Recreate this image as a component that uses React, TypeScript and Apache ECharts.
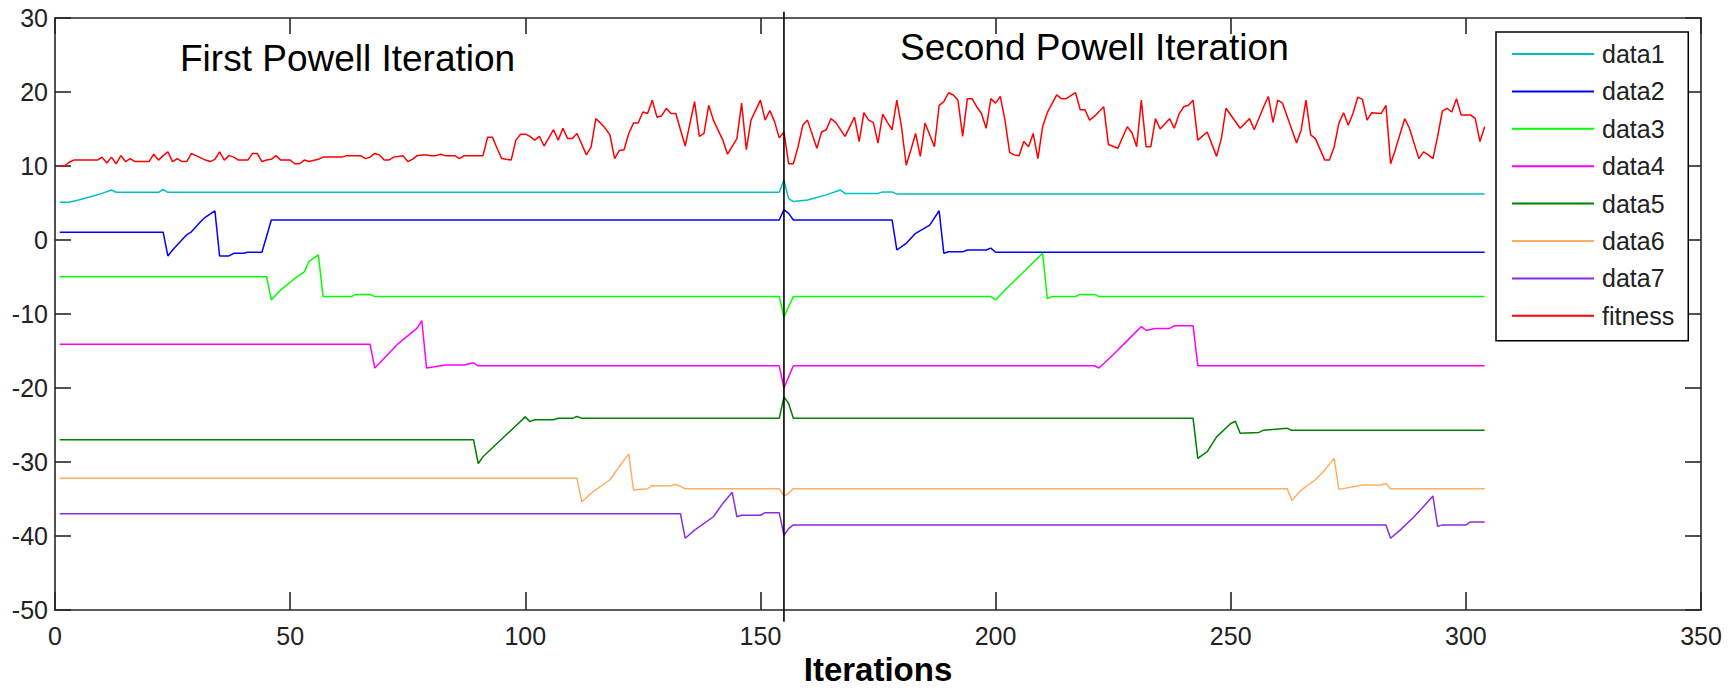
import { useEffect, useRef } from "react";
import * as echarts from "echarts";

// Axis ranges and tick spacing
const xRange = [0, 350];
const xStep = 50;
const yRange = [-50, 30];
const yStep = 10;

// Iteration where the second Powell sweep begins, and the extent of the divider
const powellSplit = 155;
const splitSpan = [-51.6, 30.85];

const annotations = ["First Powell Iteration", "Second Powell Iteration"];
const xTitle = "Iterations";

const seriesNames = ["data1", "data2", "data3", "data4", "data5", "data6", "data7", "fitness"];
const seriesColors = ["#00BFBF", "#0000FF", "#00FF00", "#FF00FF", "#008000", "#FFAE62", "#8A2BE2", "#FF0000"];

// [iteration, value] breakpoints of each parameter trace
const data1: [number, number][] = [
  [1, 5.1], [3, 5.1], [5, 5.4], [8, 5.9], [10, 6.3], [12, 6.75], [13, 6.45], [22, 6.45], [23, 6.85], [24, 6.45],
  [154, 6.45], [155, 8.1], [156, 5.6], [157, 5.2], [160, 5.4], [164, 6.1], [167, 6.75], [168, 6.3], [175, 6.3],
  [176, 6.5], [178, 6.5], [179, 6.2], [304, 6.2],
];
const data2: [number, number][] = [
  [1, 1.05], [23, 1.05], [24, -2.15], [25, -1.35], [28, 0.7], [29, 1.1], [31, 2.5], [32, 3.1], [34, 3.95], [35, -2.15],
  [37, -2.15], [38, -1.8], [40, -1.8], [41, -1.65], [44, -1.65], [45, 0.5], [46, 2.7], [154, 2.7], [155, 4.1],
  [156, 3.6], [157, 2.7], [178, 2.7], [179, -1.35], [181, -0.45], [183, 0.9], [186, 2.0], [188, 3.95], [189, -1.8],
  [190, -1.6], [193, -1.6], [194, -1.35], [198, -1.35], [199, -1.1], [200, -1.65], [304, -1.65],
];
const data3: [number, number][] = [
  [1, -4.95], [45, -4.95], [46, -8.1], [48, -6.75], [51, -5.2], [53, -4.3], [54, -2.9], [56, -2.0], [57, -7.65],
  [63, -7.65], [64, -7.35], [67, -7.35], [68, -7.65], [154, -7.65], [155, -10.4], [156, -9.0], [157, -7.65],
  [199, -7.65], [200, -8.1], [202, -6.75], [210, -1.8], [211, -7.9], [212, -7.65], [217, -7.65], [218, -7.35],
  [221, -7.35], [222, -7.65], [304, -7.65],
];
const data4: [number, number][] = [
  [1, -14.1], [67, -14.1], [68, -17.3], [73, -14.0], [77, -11.9], [78, -10.9], [79, -17.3], [83, -16.9], [87, -16.9],
  [89, -16.6], [90, -17.0], [154, -17.0], [155, -20.0], [156, -18.5], [157, -17.0], [221, -17.0], [222, -17.3],
  [225, -15.5], [228, -13.6], [231, -11.7], [232, -12.2], [234, -11.95], [237, -11.95], [238, -11.6], [242, -11.6],
  [243, -17.0], [304, -17.0],
];
const data5: [number, number][] = [
  [1, -27.0], [89, -27.0], [90, -30.2], [91, -29.3], [100, -23.9], [101, -24.55], [102, -24.3], [106, -24.3],
  [107, -24.1], [110, -24.1], [111, -23.85], [112, -24.1], [154, -24.1], [155, -21.2], [156, -22.1], [157, -24.1],
  [242, -24.1], [243, -29.5], [245, -28.6], [247, -26.6], [250, -24.8], [251, -24.5], [252, -26.1], [256, -26.0],
  [257, -25.7], [262, -25.45], [263, -25.7], [304, -25.7],
];
const data6: [number, number][] = [
  [1, -32.2], [111, -32.2], [112, -35.4], [114, -34.2], [118, -32.4], [120, -30.6], [122, -28.9], [123, -33.8],
  [126, -33.6], [127, -33.2], [131, -33.2], [132, -33.0], [134, -33.6], [154, -33.6], [155, -34.6], [156, -34.2],
  [157, -33.6], [262, -33.6], [263, -35.2], [265, -33.8], [268, -32.4], [270, -31.1], [272, -29.5], [273, -33.7],
  [278, -33.1], [282, -33.1], [283, -32.9], [284, -33.6], [304, -33.6],
];
const data7: [number, number][] = [
  [1, -37.0], [133, -37.0], [134, -40.3], [136, -39.2], [140, -37.4], [142, -35.6], [144, -34.1], [145, -37.4],
  [146, -37.2], [150, -37.2], [151, -36.85], [154, -36.85], [155, -39.9], [156, -39.0], [157, -38.5], [283, -38.5],
  [284, -40.3], [286, -39.2], [289, -37.4], [291, -36.0], [293, -34.6], [294, -38.7], [295, -38.5], [300, -38.5],
  [301, -38.1], [304, -38.1],
];
const fitness: [number, number][] = [
  [1, 10.0], [2, 10.0], [3, 10.5], [4, 10.8], [9, 10.8], [10, 11.2], [11, 10.4], [12, 11.2], [13, 10.3], [14, 11.4],
  [15, 10.6], [16, 11.0], [17, 10.6], [20, 10.6], [21, 11.6], [22, 10.8], [23, 11.4], [24, 11.9], [25, 10.6],
  [26, 11.0], [27, 10.6], [28, 10.6], [29, 11.7], [30, 11.4], [32, 10.8], [33, 10.6], [34, 10.9], [35, 11.9],
  [36, 10.8], [37, 11.4], [38, 11.2], [39, 10.8], [41, 10.8], [42, 11.7], [43, 11.7], [44, 10.6], [45, 10.8],
  [46, 10.9], [47, 11.4], [48, 10.8], [50, 10.8], [51, 10.3], [52, 10.3], [53, 10.8], [54, 10.6], [56, 10.9],
  [57, 11.2], [61, 11.2], [62, 11.4], [65, 11.4], [66, 11.0], [67, 11.2], [68, 11.7], [69, 11.5], [70, 10.8],
  [71, 10.8], [72, 11.2], [74, 11.4], [75, 10.6], [76, 10.9], [77, 11.4], [78, 11.5], [79, 11.5], [80, 11.4],
  [81, 11.4], [82, 11.6], [83, 11.4], [85, 11.4], [86, 11.0], [87, 11.4], [91, 11.4], [92, 13.9], [93, 13.9],
  [94, 12.4], [95, 11.0], [97, 10.8], [98, 13.5], [99, 14.3], [100, 14.3], [101, 14.0], [102, 13.5], [103, 14.0],
  [104, 12.7], [106, 14.9], [107, 13.5], [108, 15.1], [109, 13.7], [110, 13.7], [111, 14.4], [113, 11.5],
  [114, 12.6], [115, 16.4], [116, 15.8], [117, 15.1], [118, 14.2], [119, 11.0], [120, 12.1], [121, 12.2],
  [122, 14.4], [123, 15.8], [124, 15.8], [125, 17.3], [126, 17.1], [127, 18.9], [128, 16.6], [129, 16.8],
  [130, 17.8], [131, 17.1], [132, 17.1], [134, 12.7], [136, 18.7], [137, 14.0], [138, 14.4], [139, 18.2],
  [140, 16.2], [142, 13.5], [143, 11.6], [145, 13.7], [146, 18.5], [147, 12.2], [148, 16.2], [150, 18.9],
  [151, 16.2], [152, 17.5], [153, 16.0], [154, 13.8], [155, 14.6], [156, 10.3], [157, 10.3], [158, 12.6],
  [159, 15.5], [160, 16.2], [162, 12.4], [163, 14.6], [164, 14.9], [165, 16.4], [166, 15.9], [168, 14.0],
  [170, 16.6], [171, 13.3], [172, 17.2], [173, 16.2], [174, 15.9], [175, 13.1], [176, 17.0], [177, 15.9],
  [178, 14.9], [179, 18.9], [180, 15.3], [181, 10.1], [182, 12.2], [183, 14.4], [184, 11.3], [185, 15.8],
  [187, 12.6], [188, 18.2], [189, 18.7], [190, 19.9], [191, 19.6], [192, 18.9], [193, 14.0], [194, 19.1],
  [195, 19.1], [196, 18.0], [197, 17.1], [198, 15.1], [199, 19.1], [200, 18.5], [201, 19.4], [202, 16.2],
  [203, 11.8], [204, 11.5], [205, 11.4], [206, 13.3], [207, 12.6], [208, 14.4], [209, 11.0], [210, 15.3],
  [211, 17.2], [213, 19.6], [214, 19.1], [215, 19.1], [217, 19.9], [218, 17.6], [219, 17.6], [220, 16.2],
  [221, 16.7], [223, 18.0], [224, 12.9], [226, 12.4], [228, 15.3], [229, 14.5], [230, 12.6], [231, 18.9],
  [232, 12.6], [233, 12.6], [234, 16.4], [235, 15.0], [237, 16.4], [238, 15.1], [239, 17.0], [240, 18.0],
  [241, 18.2], [242, 18.9], [243, 13.5], [245, 14.6], [247, 11.3], [248, 13.7], [249, 17.8], [252, 15.1],
  [254, 16.4], [255, 14.9], [257, 18.0], [258, 19.4], [259, 15.9], [260, 18.9], [261, 18.5], [264, 13.1],
  [265, 14.9], [266, 18.9], [267, 14.2], [268, 13.7], [270, 10.8], [271, 10.8], [272, 12.6], [273, 15.8],
  [274, 17.2], [275, 15.5], [276, 17.1], [277, 19.3], [278, 19.0], [279, 16.2], [280, 17.2], [282, 17.1],
  [283, 18.2], [284, 10.3], [285, 12.2], [287, 16.4], [288, 15.1], [290, 11.0], [291, 11.9], [292, 11.5],
  [293, 11.0], [294, 14.0], [295, 17.4], [296, 17.8], [297, 17.3], [298, 19.1], [299, 16.9], [301, 16.9],
  [302, 16.4], [303, 13.3], [304, 15.3],
];

const seriesData = [data1, data2, data3, data4, data5, data6, data7, fitness];

const FONT = "'Liberation Sans', Arial, Helvetica, sans-serif";
const AXIS_COLOR = "#262626";

export default function App() {
  const ref = useRef<HTMLDivElement>(null);

  useEffect(() => {
    if (!ref.current) return;
    const chart = echarts.init(ref.current, undefined, { renderer: "svg" });

    const axisCommon = {
      type: "value" as const,
      axisLine: { show: true, onZero: false, lineStyle: { color: AXIS_COLOR, width: 1.6 } },
      splitLine: { show: false },
    };

    const lines = seriesNames.map((name, i) => ({
      name,
      type: "line" as const,
      data: seriesData[i],
      showSymbol: false,
      symbol: "none",
      color: seriesColors[i],
      lineStyle: { color: seriesColors[i], width: 1.5 },
      emphasis: { disabled: true },
      z: 3,
    }));

    chart.setOption({
      animation: false,
      backgroundColor: "#ffffff",
      grid: { left: 55, right: 35, top: 18, bottom: 81, containLabel: false },
      xAxis: [
        {
          ...axisCommon,
          position: "bottom",
          min: xRange[0],
          max: xRange[1],
          interval: xStep,
          name: xTitle,
          nameLocation: "middle",
          nameGap: 43,
          nameTextStyle: { fontFamily: FONT, fontSize: 33, fontWeight: "bold", color: "#000" },
          axisTick: { show: true, inside: true, length: 18, lineStyle: { color: AXIS_COLOR, width: 1.6 } },
          axisLabel: { fontFamily: FONT, fontSize: 25, color: "#222", margin: 13, showMinLabel: true, showMaxLabel: true },
        },
        {
          ...axisCommon,
          position: "top",
          min: xRange[0],
          max: xRange[1],
          interval: xStep,
          axisTick: { show: true, inside: true, length: 16, lineStyle: { color: AXIS_COLOR, width: 1.6 } },
          axisLabel: { show: false },
        },
      ],
      yAxis: [
        {
          ...axisCommon,
          position: "left",
          min: yRange[0],
          max: yRange[1],
          interval: yStep,
          axisTick: { show: true, inside: true, length: 16, lineStyle: { color: AXIS_COLOR, width: 1.6 } },
          axisLabel: { fontFamily: FONT, fontSize: 25, color: "#222", margin: 7, showMinLabel: true, showMaxLabel: true },
        },
        {
          ...axisCommon,
          position: "right",
          min: yRange[0],
          max: yRange[1],
          interval: yStep,
          axisTick: { show: true, inside: true, length: 16, lineStyle: { color: AXIS_COLOR, width: 1.6 } },
          axisLabel: { show: false },
        },
      ],
      legend: {
        data: seriesNames,
        orient: "vertical",
        left: 1496,
        top: 32,
        icon: "rect",
        itemWidth: 82,
        itemHeight: 2,
        itemGap: 11.4,
        padding: [9, 14, 12, 16],
        borderColor: "#000",
        borderWidth: 1.5,
        borderRadius: 0,
        backgroundColor: "#ffffff",
        selectedMode: false,
        textStyle: { fontFamily: FONT, fontSize: 25, lineHeight: 26, color: "#222", padding: [0, 0, 0, 3] },
      },
      series: [
        ...lines,
        {
          name: "split",
          type: "line",
          data: [
            [powellSplit, splitSpan[0]],
            [powellSplit, splitSpan[1]],
          ],
          clip: false,
          symbol: "none",
          silent: true,
          lineStyle: { color: "#000", width: 1.6 },
          z: 4,
        },
      ],
      graphic: [
        {
          type: "text",
          left: 180,
          top: 40,
          style: { text: annotations[0], fontFamily: FONT, fontSize: 37, fill: "#000" },
        },
        {
          type: "text",
          left: 900,
          top: 29,
          style: { text: annotations[1], fontFamily: FONT, fontSize: 37, fill: "#000" },
        },
      ],
    });

    return () => chart.dispose();
  }, []);

  return (
    <div
      ref={ref}
      style={{ position: "fixed", left: 0, top: 0, width: 1736, height: 691, background: "#fff" }}
    />
  );
}
